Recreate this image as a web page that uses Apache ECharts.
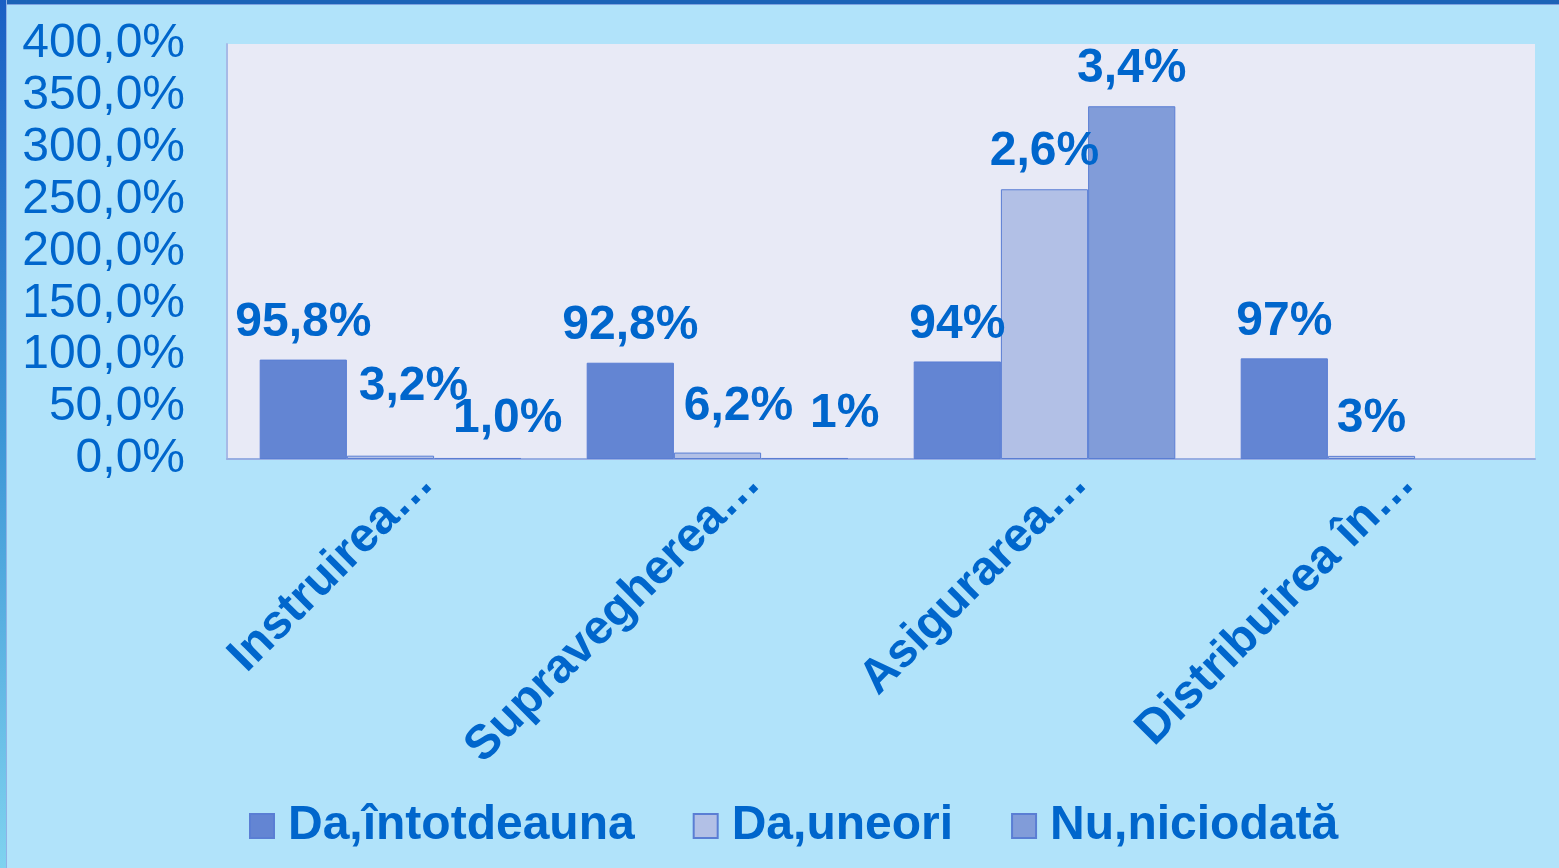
<!DOCTYPE html>
<html>
<head>
<meta charset="utf-8">
<script src="https://cdn.jsdelivr.net/npm/echarts@6/dist/echarts.min.js"></script>
<style>
  html, body { margin: 0; padding: 0; }
  #wrap { position: relative; width: 1559px; height: 868px; background: #B1E3FA; overflow: hidden; }
  #chart { position: absolute; left: 0; top: 0; width: 1559px; height: 868px; }
  .topbar { position: absolute; left: 0; top: 0; width: 1559px; height: 4px; background: #1C63B7; border-bottom: 1px solid #7FA3E0; }
  .leftbar { position: absolute; left: 0; top: 0; width: 6px; height: 868px; background: linear-gradient(#1A5FC4, #3C96D6 50%, #7FD2EF); border-right: 1px solid #8FB2E6; }
</style>
</head>
<body>
<div id="wrap">
  <div id="chart"></div>
  <div class="topbar"></div>
  <div class="leftbar"></div>
</div>
<script>
  var categories = ['Instruirea…', 'Supravegherea…', 'Asigurarea…', 'Distribuirea în…']
  var seriesNames = ['Da,întotdeauna', 'Da,uneori', 'Nu,niciodată']
  var daIntotdeauna = [95.8, 92.8, 94, 97]
  var daUneori = [3.2, 6.2, 260, 3]
  var nuNiciodata = [1.0, 1, 340, null]
  var labelsIntotdeauna = ['95,8%', '92,8%', '94%', '97%']
  var labelsUneori = ['3,2%', '6,2%', '2,6%', '3%']
  var labelsNiciodata = ['1,0%', '1%', '3,4%', '']
  var yTicks = [0, 50, 100, 150, 200, 250, 300, 350, 400]

  var blue = '#0066CC'
  var font = '"Liberation Sans", Arial, sans-serif'
  // label nudges, as the original puts the small labels by hand
  var nudge = [
    [[0, 0], [0, 0], [0, 0], [0, 0]],
    [[23, -32], [21, -9], [0, 0], [0, 0]],
    [[30, -2], [40, -7], [0, 0], [0, 0]]
  ]

  function makeData(values, texts, s) {
    return values.map(function (v, i) {
      return {
        value: v,
        label: { formatter: texts[i], offset: nudge[s][i] }
      }
    })
  }

  function bar(name, values, texts, s, color) {
    return {
      name: name,
      type: 'bar',
      barGap: '0%',
      barCategoryGap: '20%',
      data: makeData(values, texts, s),
      itemStyle: { color: color, borderColor: '#5A7ED4', borderWidth: 1 },
      label: {
        show: true,
        position: 'top',
        distance: 13,
        color: blue,
        fontFamily: font,
        fontWeight: 'bold',
        fontSize: 48
      }
    }
  }

  var chart = echarts.init(document.getElementById('chart'))
  var option = {
    animation: false,
    backgroundColor: 'transparent',
    textStyle: { fontFamily: font },
    grid: {
      left: 227, right: 24, top: 44, bottom: 409,
      show: true, backgroundColor: '#E8EAF6', borderWidth: 0,
      outerBoundsMode: 'none'
    },
    legend: {
      top: 802,
      left: 249,
      padding: 0,
      itemWidth: 24,
      itemHeight: 24,
      itemGap: 58,
      icon: 'rect',
      data: seriesNames,
      textStyle: { color: blue, fontFamily: font, fontWeight: 'bold', fontSize: 48, padding: [0, 0, 0, 9] }
    },
    xAxis: {
      type: 'category',
      data: categories,
      axisTick: { show: false },
      axisLine: { lineStyle: { color: '#97AEE2', width: 2 } },
      axisLabel: {
        rotate: 45,
        interval: 0,
        margin: 18,
        verticalAlign: 'top',
        padding: [0, -26, 0, 0],
        color: blue,
        fontFamily: font,
        fontWeight: 'bold',
        fontSize: 48
      }
    },
    yAxis: {
      type: 'value',
      min: yTicks[0],
      max: yTicks[yTicks.length - 1],
      interval: 50,
      splitLine: { show: false },
      axisTick: { show: false },
      axisLine: { show: true, lineStyle: { color: '#A7BAE6', width: 2 } },
      axisLabel: {
        margin: 42,
        color: blue,
        fontFamily: font,
        fontSize: 48,
        formatter: function (v) { return v.toFixed(1).replace('.', ',') + '%' }
      }
    },
    series: [
      bar(seriesNames[0], daIntotdeauna, labelsIntotdeauna, 0, '#6385D3'),
      bar(seriesNames[1], daUneori, labelsUneori, 1, '#B2C0E6'),
      bar(seriesNames[2], nuNiciodata, labelsNiciodata, 2, '#819CD9')
    ]
  }
  chart.setOption(option)
</script>
</body>
</html>
